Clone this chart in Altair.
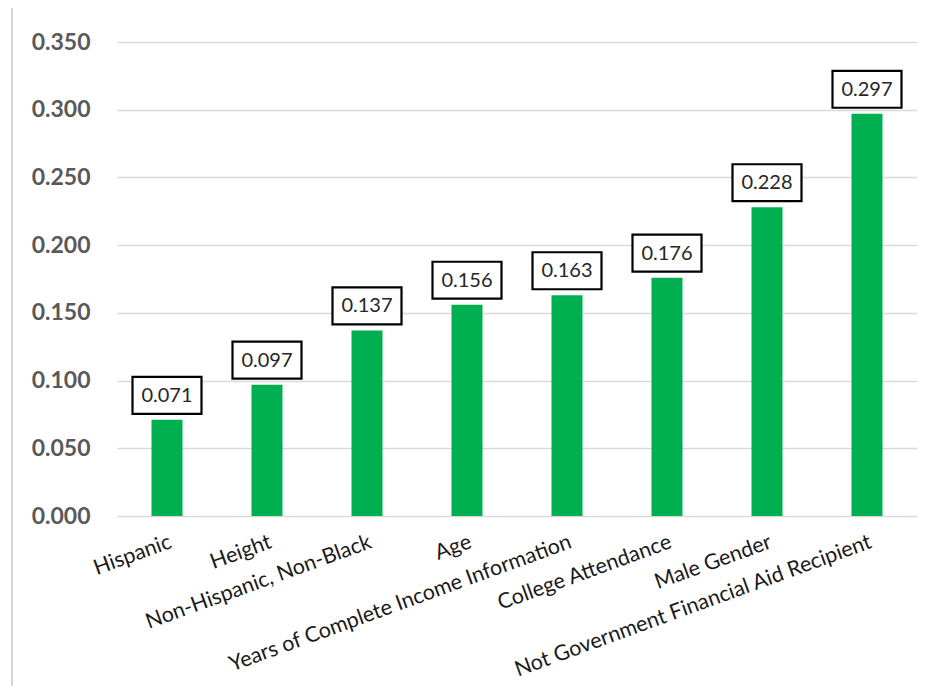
import altair as alt
import pandas as pd

categories = [
    "Hispanic",
    "Height",
    "Non-Hispanic, Non-Black",
    "Age",
    "Years of Complete Income Information",
    "College Attendance",
    "Male Gender",
    "Not Government Financial Aid Recipient",
]
values = [0.071, 0.097, 0.137, 0.156, 0.163, 0.176, 0.228, 0.297]
y_ticks = [0.0, 0.05, 0.10, 0.15, 0.20, 0.25, 0.30, 0.35]

df = pd.DataFrame({"cat": categories, "val": values})

W, H = 800, 474
x_enc = alt.X(
    "cat:N",
    sort=categories,
    title=None,
    scale=alt.Scale(paddingInner=0.69, paddingOuter=0.345),
    axis=alt.Axis(
        labelAngle=340,
        labelAlign="right",
        labelBaseline="top",
        labelPadding=15,
        labelFont="Lato",
        labelFontSize=21.5,
        labelColor="#1a1a1a",
        labelOverlap=False,
        labelLimit=0,
        domain=False,
        ticks=False,
        grid=False,
    ),
)
y_enc = alt.Y(
    "val:Q",
    title=None,
    scale=alt.Scale(domain=[0, 0.35], nice=False, zero=True),
    axis=alt.Axis(
        values=y_ticks,
        format=".3f",
        labelFont="Lato",
        labelFontSize=23,
        labelFontWeight="bold",
        labelColor="#595959",
        labelPadding=27,
        domain=False,
        ticks=False,
        grid=True,
        gridColor="#d9d9d9",
        gridWidth=1.5,
    ),
)

frame = alt.Chart(df).mark_rect(
    fill="white", fillOpacity=0, stroke="#d6d6d6", strokeWidth=2
).encode(
    x=alt.value(-105), x2=alt.value(810), y=alt.value(-36), y2=alt.value(700)
)

bars = alt.Chart(df).mark_bar(color="#00B050").encode(x=x_enc, y=y_enc)

box_shape = "M-1,-0.536L1,-0.536L1,0.536L-1,0.536Z"
boxes = alt.Chart(df).mark_point(
    shape=box_shape,
    size=4761,
    filled=False,
    fill="white",
    fillOpacity=1,
    stroke="black",
    strokeWidth=2.2,
    opacity=1,
    yOffset=-24.5,
).encode(x=alt.X("cat:N", sort=categories), y="val:Q")

labels = alt.Chart(df).mark_text(
    font="Lato",
    fontSize=20,
    color="#262626",
    baseline="middle",
    align="center",
    yOffset=-24,
).encode(
    x=alt.X("cat:N", sort=categories),
    y="val:Q",
    text=alt.Text("val:Q", format=".3f"),
)

chart = (
    alt.layer(frame, bars, boxes, labels)
    .properties(
        width=W,
        height=H,
        autosize=alt.AutoSizeParams(type="none"),
        padding={"left": 109, "top": 34, "right": 8, "bottom": 170},
        background="white",
    )
    .configure_view(stroke=None)
)

chart.save("out.html", embed_options={"renderer": "svg", "actions": False})
